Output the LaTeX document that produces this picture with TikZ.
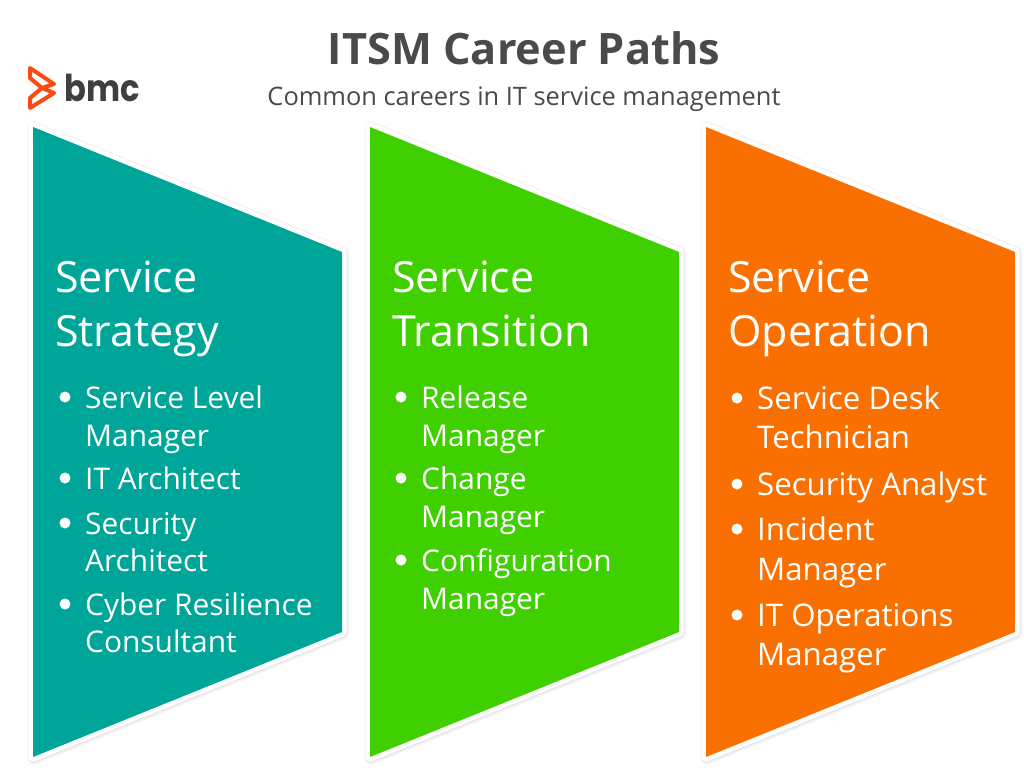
\documentclass[tikz,border=0pt]{standalone}
\usepackage{fontspec}
\setmainfont{Open Sans}
\newfontfamily\logofont{Poppins}
\definecolor{teal1}{HTML}{00A59A}
\definecolor{green1}{HTML}{40D000}
\definecolor{orange1}{HTML}{FA7000}
\definecolor{ink}{HTML}{4A4A4A}
\definecolor{logoink}{HTML}{3F3F42}
\definecolor{logoorange}{HTML}{FC4A10}
\tikzset{
 x=1pt,y=-1pt,
 title/.style={text=ink,inner sep=0pt,font=\fontsize{43.3}{50}\selectfont\bfseries},
 subtitle/.style={text=ink,inner sep=0pt,font=\fontsize{25.4}{30}\selectfont},
 head/.style={text=white,inner sep=0pt,anchor=base west,yshift=-1pt,font=\fontsize{43}{50}\selectfont},
 itm/.style={text=white,inner sep=0pt,anchor=base west,yshift=-1pt,font=\fontsize{29.9}{34}\selectfont},
 itmb/.style={text=white,inner sep=0pt,anchor=base west,yshift=-1pt,font=\fontsize{31.2}{34}\selectfont},
 dot/.style={circle,fill=white,inner sep=0pt,minimum size=11pt},
 panelhalo/.style={draw=black!4,fill=black!4,line width=13pt,line join=round},
 panelshadow/.style={draw=black!9,fill=black!9,line width=10pt,line join=round},
 panelrim/.style={draw=white,fill=white,line width=9pt,line join=round},
}
\begin{document}
\begin{tikzpicture}
\useasboundingbox (0,0) rectangle (1024,770);
\fill[white] (0,0) rectangle (1024,770);
\draw[panelhalo] (34,128) -- (343,253) -- (343,633) -- (34,758) -- cycle;
\draw[panelhalo] (371,128) -- (680,253) -- (680,633) -- (371,758) -- cycle;
\draw[panelhalo] (707,128) -- (1016,253) -- (1016,633) -- (707,758) -- cycle;
\draw[panelshadow] (33.5,128) -- (342.5,253) -- (342.5,633) -- (33.5,758) -- cycle;
\draw[panelshadow] (370.5,128) -- (679.5,253) -- (679.5,633) -- (370.5,758) -- cycle;
\draw[panelshadow] (706.5,128) -- (1015.5,253) -- (1015.5,633) -- (706.5,758) -- cycle;
\draw[panelrim] (33,127) -- (342,252) -- (342,632) -- (33,757) -- cycle;
\draw[panelrim] (370,127) -- (679,252) -- (679,632) -- (370,757) -- cycle;
\draw[panelrim] (706,127) -- (1015,252) -- (1015,632) -- (706,757) -- cycle;
\fill[teal1] (33,127) -- (342,252) -- (342,632) -- (33,757) -- cycle;
\fill[green1] (370,127) -- (679,252) -- (679,632) -- (370,757) -- cycle;
\fill[orange1] (706,127) -- (1015,252) -- (1015,632) -- (706,757) -- cycle;

\node[title] (t) at (524,48) {ITSM Career Paths};
\node[subtitle] (st) at (524,99) {Common careers in IT service management};

\draw[logoorange,line width=4pt,line join=round] (30,68) -- (54,84) -- (42,88) -- (30,78) -- cycle;
\draw[logoorange,line width=4pt,line join=round] (42,88) -- (54,93) -- (30,108) -- (30,98) -- cycle;
\node[inner sep=0pt,anchor=base west,text=logoink,xscale=.87,font=\logofont\fontsize{37}{40}\selectfont\bfseries] (logo) at (64,102) {bmc};

% column 1
\node[head] (a1) at (55,291) {Service};
\node[head] (a2) at (55,345) {Strategy};
\node[dot] (ad1) at (65,397) {};
\node[itm] (a3) at (85,407) {Service Level};
\node[itm] (a4) at (85,445) {Manager};
\node[dot] (ad2) at (65,478) {};
\node[itm] (a5) at (85,488) {IT Architect};
\node[dot] (ad3) at (65,523) {};
\node[itm] (a6) at (85,533) {Security};
\node[itm] (a7) at (85,570) {Architect};
\node[dot] (ad4) at (65,604) {};
\node[itm] (a8) at (85,614) {Cyber Resilience};
\node[itm] (a9) at (85,651) {Consultant};
% column 2
\node[head] (b1) at (392,291) {Service};
\node[head] (b2) at (392,345) {Transition};
\node[dot] (bd1) at (401,397) {};
\node[itm] (b3) at (421,407) {Release};
\node[itm] (b4) at (421,445) {Manager};
\node[dot] (bd2) at (401,478) {};
\node[itm] (b5) at (421,488) {Change};
\node[itm] (b6) at (421,526) {Manager};
\node[dot] (bd3) at (401,560) {};
\node[itm] (b7) at (421,570) {Configuration};
\node[itm] (b8) at (421,608) {Manager};
% column 3
\node[head] (c1) at (728,291) {Service};
\node[head] (c2) at (728,345) {Operation};
\node[dot] (cd1) at (737,398) {};
\node[itmb] (c3) at (757,408) {Service Desk};
\node[itmb] (c4) at (757,447) {Technician};
\node[dot] (cd2) at (737,484) {};
\node[itmb] (c5) at (757,494) {Security Analyst};
\node[dot] (cd3) at (737,529) {};
\node[itmb] (c6) at (757,539) {Incident};
\node[itmb] (c7) at (757,579) {Manager};
\node[dot] (cd4) at (737,615) {};
\node[itmb] (c8) at (757,625) {IT Operations};
\node[itmb] (c9) at (757,664) {Manager};
\end{tikzpicture}
\end{document}
